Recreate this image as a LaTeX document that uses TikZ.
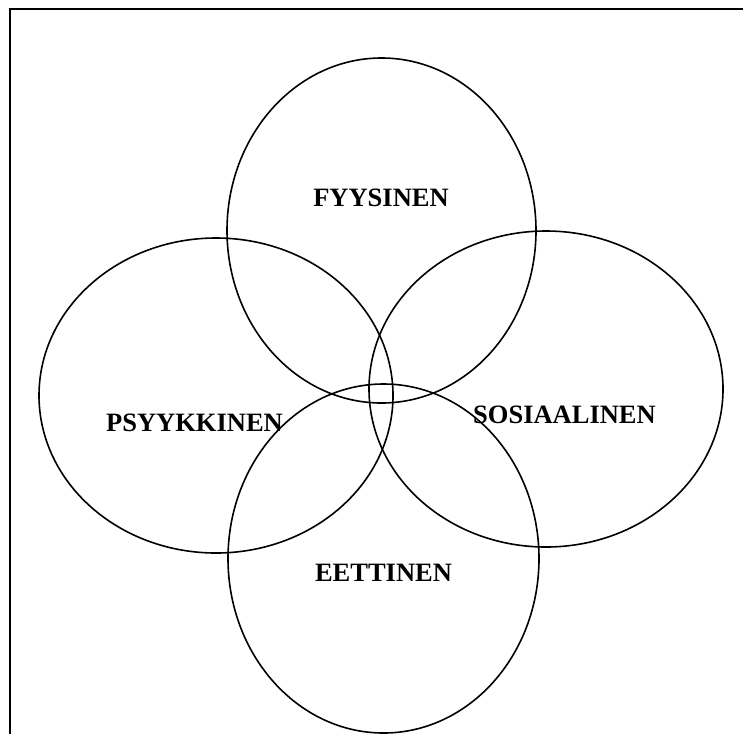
\documentclass[tikz,border=0pt]{standalone}
\usepackage{fontspec}
\setmainfont{Liberation Serif}
\usetikzlibrary{positioning}

\begin{document}
\begin{tikzpicture}[x=1pt, y=-1pt,
  ring/.style={draw, line width=1.6pt},
  frame/.style={line width=2.4pt},
  lbl/.style={font=\fontsize{26.5}{30}\selectfont\bfseries, inner sep=0pt}
]
  \useasboundingbox (0,0) rectangle (743,734);
  \draw[frame] (743,9) -- (10,9) -- (10,734);

  \draw[ring] (381.5,230.5) ellipse [x radius=154.5, y radius=172.5];
  \draw[ring] (216,395.5) ellipse [x radius=177, y radius=157.5];
  \draw[ring] (546,389) ellipse [x radius=177, y radius=158];
  \draw[ring] (383.5,558.5) ellipse [x radius=155.5, y radius=174.5];

  \node[lbl] (fyys) at (381,198) {FYYSINEN};
  \node[lbl] (psyy) at (194.5,422.5) {PSYYKKINEN};
  \node[lbl] (sosi) at (564.5,414.5) {SOSIAALINEN};
  \node[lbl] (eett) at (383.5,572.5) {EETTINEN};
\end{tikzpicture}
\end{document}
